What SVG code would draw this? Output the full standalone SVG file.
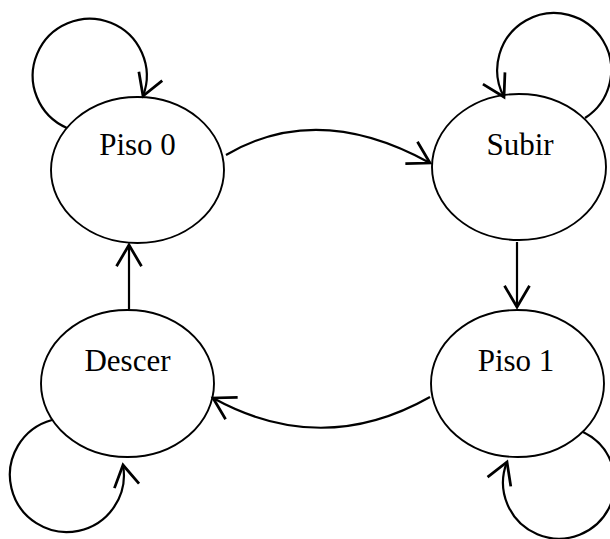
<svg xmlns="http://www.w3.org/2000/svg" width="610" height="539" viewBox="0 0 610 539">
<style>
.node{fill:none;stroke:#000;stroke-width:1.9}
.lbl{font-family:"Liberation Serif","Times New Roman",serif;font-size:31px;fill:#000;text-anchor:middle}
.edge{fill:none;stroke:#000;stroke-width:2.2;marker-end:url(#arr)}
</style>
<defs>
<marker id="arr" markerUnits="userSpaceOnUse" markerWidth="30" markerHeight="30" viewBox="-20 -12 24 24" refX="0" refY="0" orient="auto">
<path d="M-17,-10 L0,0 L-17,10" fill="none" stroke="#000" stroke-width="2.2" stroke-linejoin="miter"/>
</marker>
</defs>
<rect width="610" height="539" fill="#fff"/>
<g id="connectors">
<path class="edge" d="M67,128 A57,57 0 1 1 143,96"/>
<path class="edge" d="M585,118 A57,57 0 1 0 504,97"/>
<path class="edge" d="M52,420 A57,57 0 1 0 123,465"/>
<path class="edge" d="M583,432 A56,56 0 1 1 507,462"/>
<path class="edge" d="M226,155 Q318,101 430,163"/>
<path class="edge" d="M430,397 Q322,458 213,398"/>
<path class="edge" d="M517,242 L517,307"/>
<path class="edge" d="M129,309 L129,245"/>
</g>
<g id="piso0">
<ellipse class="node" cx="137.5" cy="170" rx="86.5" ry="73"/>
<text class="lbl" x="137.5" y="155">Piso 0</text>
</g>
<g id="subir">
<ellipse class="node" cx="519" cy="167" rx="87" ry="73"/>
<text class="lbl" x="520" y="155">Subir</text>
</g>
<g id="descer">
<ellipse class="node" cx="127.5" cy="383.5" rx="86.5" ry="73.5"/>
<text class="lbl" x="127.5" y="371">Descer</text>
</g>
<g id="piso1">
<ellipse class="node" cx="517.5" cy="383.5" rx="86.5" ry="73.5"/>
<text class="lbl" x="516" y="371">Piso 1</text>
</g>
</svg>
